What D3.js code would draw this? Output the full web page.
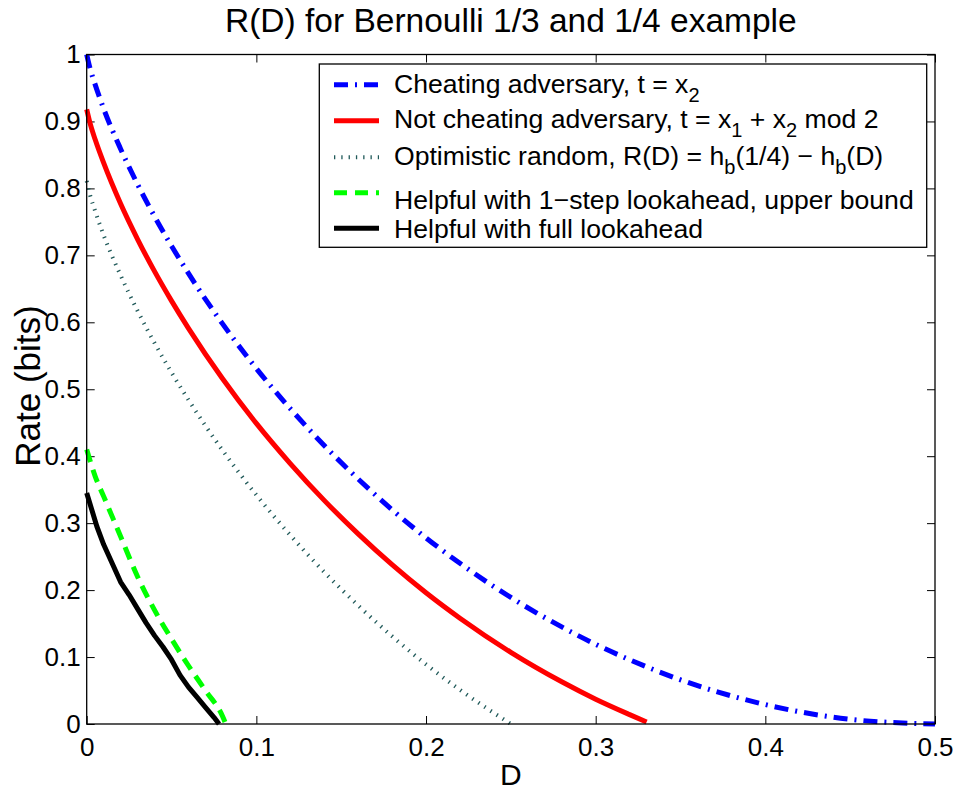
<!DOCTYPE html>
<html>
<head>
<meta charset="utf-8">
<script src="https://cdn.jsdelivr.net/npm/d3@7/dist/d3.min.js"></script>
<style>
    body { margin: 0; background: #fff; }
    text { font-family: "Liberation Sans", Arial, Helvetica, sans-serif; fill: #000; }
</style>
</head>
<body>
<div id="chart"></div>
<script>
// Rate-distortion curves, values

// cheating adversary, t = x2
const dCheat = [0, 0.001, 0.002, 0.005, 0.01, 0.02, 0.03, 0.04, 0.05, 0.06, 0.08, 0.1, 0.12, 0.14, 0.16, 0.18, 0.2, 0.22, 0.25, 0.28, 0.3, 0.32, 0.35, 0.4, 0.45, 0.5];
const rCheat = [1, 0.989, 0.979, 0.955, 0.919, 0.859, 0.806, 0.758, 0.714, 0.673, 0.598, 0.531, 0.471, 0.416, 0.366, 0.320, 0.278, 0.240, 0.189, 0.145, 0.119, 0.096, 0.066, 0.029, 0.007, 0];

// not cheating adversary
const dNotCheat = [0, 0.002, 0.005, 0.01, 0.02, 0.03, 0.04, 0.05, 0.06, 0.08, 0.1, 0.12, 0.14, 0.16, 0.18, 0.2, 0.22, 0.25, 0.28, 0.3, 0.32, 0.33];
const rNotCheat = [0.918, 0.897, 0.873, 0.838, 0.777, 0.724, 0.676, 0.632, 0.591, 0.516, 0.449, 0.389, 0.334, 0.284, 0.238, 0.196, 0.158, 0.107, 0.063, 0.037, 0.014, 0.003];

// optimistic random
const dOptimistic = [0, 0.002, 0.005, 0.01, 0.02, 0.03, 0.04, 0.05, 0.06, 0.08, 0.1, 0.12, 0.14, 0.16, 0.18, 0.2, 0.22, 0.25];
const rOptimistic = [0.811, 0.790, 0.766, 0.730, 0.670, 0.617, 0.569, 0.525, 0.484, 0.409, 0.342, 0.282, 0.227, 0.177, 0.131, 0.089, 0.051, 0];

// helpful, 1-step lookahead upper bound
const dOneStep = [0, 0.005, 0.01, 0.02, 0.03, 0.04, 0.05, 0.06, 0.07, 0.08, 0.082];
const rOneStep = [0.41, 0.37, 0.34, 0.28, 0.22, 0.17, 0.127, 0.087, 0.05, 0.012, 0];

// helpful, full lookahead
const dFull = [0, 0.003, 0.006, 0.01, 0.015, 0.02, 0.025, 0.03, 0.035, 0.04, 0.045, 0.05, 0.055, 0.06, 0.065, 0.07, 0.075, 0.078];
const rFull = [0.345, 0.32, 0.295, 0.268, 0.24, 0.212, 0.193, 0.172, 0.151, 0.132, 0.115, 0.096, 0.073, 0.055, 0.04, 0.025, 0.01, 0];

const xTicks = [0, 0.1, 0.2, 0.3, 0.4, 0.5];
const xTickLabels = ["0", "0.1", "0.2", "0.3", "0.4", "0.5"];
const yTicks = [0, 0.1, 0.2, 0.3, 0.4, 0.5, 0.6, 0.7, 0.8, 0.9, 1];
const yTickLabels = ["0", "0.1", "0.2", "0.3", "0.4", "0.5", "0.6", "0.7", "0.8", "0.9", "1"];

// legend labels: [text, isSubscript]
const legendLabels = [
    [["Cheating adversary, t = x", 0], ["2", 1]],
    [["Not cheating adversary, t = x", 0], ["1", 1], [" + x", 0], ["2", 1], [" mod 2", 0]],
    [["Optimistic random, R(D) = h", 0], ["b", 1], ["(1/4) \u2212 h", 0], ["b", 1], ["(D)", 0]],
    [["Helpful with 1\u2212step lookahead, upper bound", 0]],
    [["Helpful with full lookahead", 0]]
];

function drawChart() {
    const width = 958;
    const height = 792;
    const margin = { top: 54.5, right: 23, bottom: 68, left: 86.7 };

    d3.select("#chart").selectAll("*").remove();

    const svg = d3.select("#chart")
        .append("svg")
        .attr("width", width)
        .attr("height", height);

    const x = d3.scaleLinear()
        .domain([0, 0.5])
        .range([margin.left, width - margin.right]);

    const y = d3.scaleLinear()
        .domain([0, 1])
        .range([height - margin.bottom, margin.top]);

    // bottom axis with labels
    const xAxis = svg.append("g")
        .attr("transform", `translate(0,${y(0)})`)
        .call(d3.axisBottom(x)
            .tickValues(xTicks)
            .tickFormat((d, i) => xTickLabels[i])
            .tickSizeInner(-8)
            .tickSizeOuter(0)
            .tickPadding(14));

    // left axis with labels
    const yAxis = svg.append("g")
        .attr("transform", `translate(${x(0)},0)`)
        .call(d3.axisLeft(y)
            .tickValues(yTicks)
            .tickFormat((d, i) => yTickLabels[i])
            .tickSizeInner(-8)
            .tickSizeOuter(0)
            .tickPadding(6));

    // top and right ticks, no labels
    const xTop = svg.append("g")
        .attr("transform", `translate(0,${y(1)})`)
        .call(d3.axisTop(x).tickValues(xTicks).tickFormat("").tickSizeInner(-8).tickSizeOuter(0));

    const yRight = svg.append("g")
        .attr("transform", `translate(${x(0.5)},0)`)
        .call(d3.axisRight(y).tickValues(yTicks).tickFormat("").tickSizeInner(-8).tickSizeOuter(0));

    [xAxis, yAxis, xTop, yRight].forEach(g => {
        g.select(".domain").remove();
        g.selectAll(".tick line").attr("stroke", "#000").attr("stroke-width", 1);
        g.selectAll(".tick text")
            .attr("font-size", "26px")
            .attr("font-family", "Liberation Sans, Arial, sans-serif")
            .attr("fill", "#000");
    });

    // curves
    const line = d3.line()
        .x(d => x(d[0]))
        .y(d => y(d[1]));

    const series = [
        { d: dCheat, r: rCheat, color: "#0000ff", width: 5, dash: "14,7,2,7", curve: d3.curveMonotoneX },
        { d: dNotCheat, r: rNotCheat, color: "#ff0000", width: 5, dash: null, curve: d3.curveMonotoneX },
        { d: dOptimistic, r: rOptimistic, color: "#215a5a", width: 4, dash: "1.3,6", curve: d3.curveMonotoneX },
        { d: dOneStep, r: rOneStep, color: "#00ff00", width: 5, dash: "13,8", curve: d3.curveMonotoneX },
        { d: dFull, r: rFull, color: "#000000", width: 5, dash: null, curve: d3.curveLinear }
    ];

    series.forEach(s => {
        const pts = s.d.map((v, i) => [v, s.r[i]]);
        svg.append("path")
            .datum(pts)
            .attr("d", line.curve(s.curve))
            .attr("fill", "none")
            .attr("stroke", s.color)
            .attr("stroke-width", s.width)
            .attr("stroke-linejoin", "round")
            .attr("stroke-dasharray", s.dash);
    });

    // plot frame
    svg.append("rect")
        .attr("x", x(0))
        .attr("y", y(1))
        .attr("width", x(0.5) - x(0))
        .attr("height", y(0) - y(1))
        .attr("fill", "none")
        .attr("stroke", "#000")
        .attr("stroke-width", 1.3);

    // title
    svg.append("text")
        .attr("x", (x(0) + x(0.5)) / 2)
        .attr("y", 32)
        .attr("text-anchor", "middle")
        .attr("font-size", "33.5px")
        .text("R(D) for Bernoulli 1/3 and 1/4 example");

    // axis labels
    svg.append("text")
        .attr("x", (x(0) + x(0.5)) / 2)
        .attr("y", 785)
        .attr("text-anchor", "middle")
        .attr("font-size", "30px")
        .text("D");

    svg.append("text")
        .attr("transform", "translate(40,386) rotate(-90)")
        .attr("text-anchor", "middle")
        .attr("font-size", "35px")
        .text("Rate (bits)");

    // legend
    const legend = svg.append("g");

    legend.append("rect")
        .attr("x", 319.3)
        .attr("y", 64)
        .attr("width", 607.4)
        .attr("height", 183.3)
        .attr("fill", "#fff")
        .attr("stroke", "#000")
        .attr("stroke-width", 1.3);

    const rowY = [84.7, 120.7, 157.3, 192.7, 228.3];
    const textDy = [8, 7.6, 7.7, 16.6, 10];

    legendLabels.forEach((parts, i) => {
        const s = series[i];
        legend.append("line")
            .attr("x1", 334)
            .attr("x2", 379)
            .attr("y1", rowY[i])
            .attr("y2", rowY[i])
            .attr("stroke", s.color)
            .attr("stroke-width", s.width)
            .attr("stroke-dasharray", s.dash);

        const t = legend.append("text")
            .attr("x", 394)
            .attr("y", rowY[i] + textDy[i])
            .attr("font-size", "26.6px");

        let shifted = false;
        parts.forEach(p => {
            const span = t.append("tspan").text(p[0]);
            if (p[1] && !shifted) {
                span.attr("dy", 9).attr("font-size", "20px");
                shifted = true;
            } else if (!p[1] && shifted) {
                span.attr("dy", -9);
                shifted = false;
            }
        });
    });
}

window.addEventListener('load', drawChart);
</script>
</body>
</html>
